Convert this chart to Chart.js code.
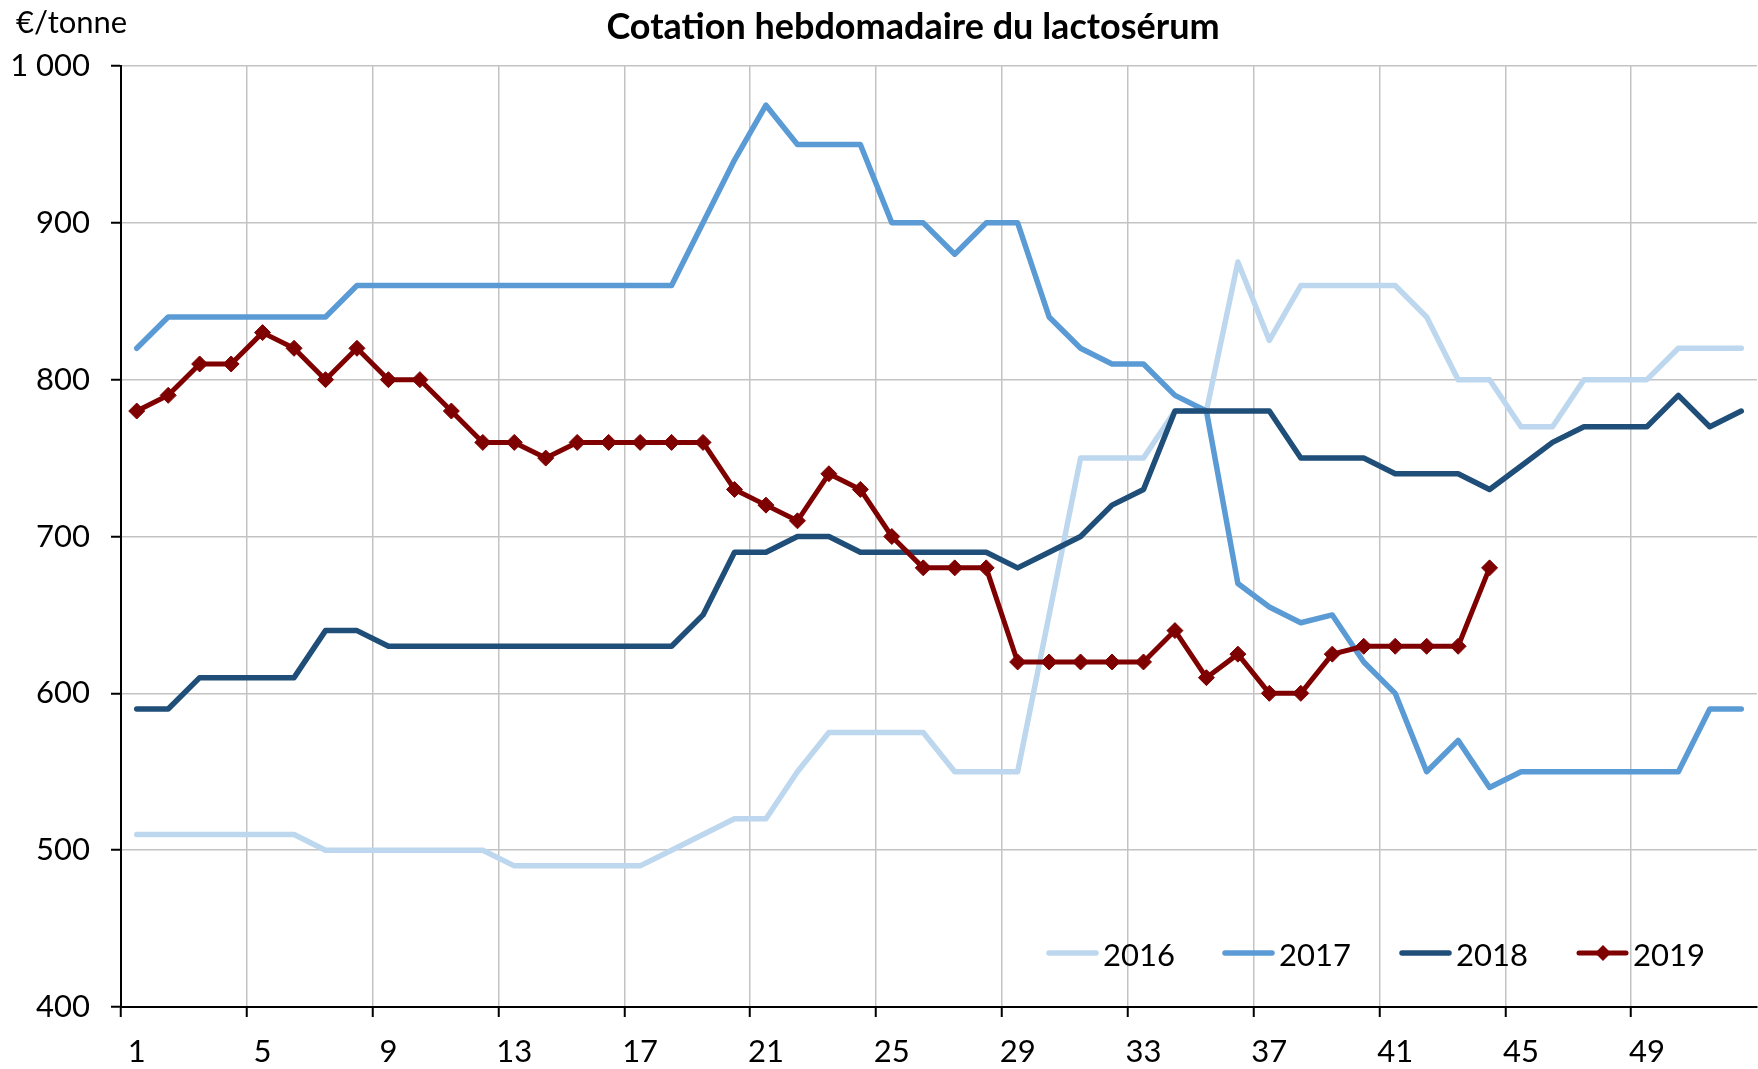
<!DOCTYPE html>
<html>
<head>
<meta charset="utf-8">
<script src="https://cdn.jsdelivr.net/npm/chart.js@4.4.1/dist/chart.umd.min.js"></script>
<style>
  html, body { margin: 0; padding: 0; background: #fff; overflow: hidden; }
  #wrap { position: absolute; left: 0; top: 0; width: 1766px; height: 1069px; }
</style>
</head>
<body>
<div id="wrap"><canvas id="c"></canvas></div>
<script>
// ---- data ----
const chartTitle = 'Cotation hebdomadaire du lactosérum';
const unitLabel = '€/tonne';
const weeks = ['1','2','3','4','5','6','7','8','9','10','11','12','13','14','15','16','17','18','19','20',
  '21','22','23','24','25','26','27','28','29','30','31','32','33','34','35','36','37','38','39','40',
  '41','42','43','44','45','46','47','48','49','50','51','52'];
const seriesNames = ['2016', '2017', '2018', '2019'];
const v2016 = [510,510,510,510,510,510,500,500,500,500,500,500,490,490,490,490,490,500,510,520,
  520,550,575,575,575,575,550,550,550,650,750,750,750,780,780,875,825,860,860,860,
  860,840,800,800,770,770,800,800,800,820,820,820];
const v2017 = [820,840,840,840,840,840,840,860,860,860,860,860,860,860,860,860,860,860,900,940,
  975,950,950,950,900,900,880,900,900,840,820,810,810,790,780,670,655,645,650,620,
  600,550,570,540,550,550,550,550,550,550,590,590];
const v2018 = [590,590,610,610,610,610,640,640,630,630,630,630,630,630,630,630,630,630,650,690,
  690,700,700,690,690,690,690,690,680,690,700,720,730,780,780,780,780,750,750,750,
  740,740,740,730,745,760,770,770,770,790,770,780];
const v2019 = [780,790,810,810,830,820,800,820,800,800,780,760,760,750,760,760,760,760,760,730,
  720,710,740,730,700,680,680,680,620,620,620,620,620,640,610,625,600,600,625,630,
  630,630,630,680,null,null,null,null,null,null,null,null];
const yMin = 400, yMax = 1000, yStep = 100;

// ---- styles ----
const colors = ['#BDD7EE', '#5B9BD5', '#1F4E79', '#7F0000'];
const FONT = 'Lato, "Open Sans", sans-serif';
const gridColor = '#C3C3C3';

function lineDs(label, data, color, order, withMarker) {
  return {
    label, data,
    borderColor: color,
    backgroundColor: color,
    borderWidth: withMarker ? 5 : 5.5,
    borderCapStyle: 'round',
    borderJoinStyle: 'round',
    tension: 0,
    fill: false,
    spanGaps: false,
    order,
    pointStyle: 'rectRot',
    pointRadius: withMarker ? 8 : 0,
    pointHoverRadius: withMarker ? 8 : 0,
    pointBorderWidth: 1,
    pointBackgroundColor: color,
    pointBorderColor: color
  };
}

const decorPlugin = {
  id: 'decor',
  afterDraw(chart) {
    const ctx = chart.ctx;
    ctx.save();
    // title
    ctx.fillStyle = '#000';
    ctx.font = 'bold 36px ' + FONT;
    ctx.textAlign = 'center';
    ctx.textBaseline = 'alphabetic';
    ctx.fillText(chartTitle, 913, 39);
    // unit
    ctx.font = '31px ' + FONT;
    ctx.textAlign = 'left';
    ctx.fillText(unitLabel, 16, 33);
    // legend (inside plot, bottom right)
    const legendX = [1047, 1223, 1400, 1577];
    const ly = 953;
    chart.data.datasets.forEach((ds, i) => {
      const x0 = legendX[i];
      ctx.strokeStyle = ds.borderColor;
      ctx.lineWidth = ds.borderWidth;
      ctx.lineCap = 'round';
      ctx.beginPath();
      ctx.moveTo(x0 + 2, ly);
      ctx.lineTo(x0 + 49, ly);
      ctx.stroke();
      if (ds.pointRadius > 0) {
        const r = 8, cx = x0 + 26;
        ctx.fillStyle = ds.pointBackgroundColor;
        ctx.beginPath();
        ctx.moveTo(cx - r, ly); ctx.lineTo(cx, ly - r);
        ctx.lineTo(cx + r, ly); ctx.lineTo(cx, ly + r);
        ctx.closePath();
        ctx.fill();
      }
      ctx.fillStyle = '#000';
      ctx.font = '31px ' + FONT;
      ctx.textAlign = 'left';
      ctx.textBaseline = 'alphabetic';
      ctx.fillText(ds.label, x0 + 56, ly + 13);
    });
    ctx.restore();
  }
};

const data = {
  labels: weeks,
  datasets: [
    lineDs(seriesNames[0], v2016, colors[0], 4, false),
    lineDs(seriesNames[1], v2017, colors[1], 3, false),
    lineDs(seriesNames[2], v2018, colors[2], 2, false),
    lineDs(seriesNames[3], v2019, colors[3], 1, true)
  ]
};

new Chart(document.getElementById('c'), {
  type: 'line',
  data,
  plugins: [decorPlugin],
  options: {
    responsive: true,
    maintainAspectRatio: false,
    devicePixelRatio: 1,
    animation: false,
    events: [],
    layout: { padding: { top: 66, right: 2, left: 0, bottom: 0 } },
    plugins: {
      legend: { display: false },
      title: { display: false },
      tooltip: { enabled: false }
    },
    scales: {
      x: {
        type: 'category',
        offset: true,
        afterFit(scale) { scale.height = 62; },
        grid: {
          offset: true,
          drawTicks: true,
          tickLength: 10,
          lineWidth: 1.5,
          color: (c) => (c.index !== undefined && c.index % 4 === 0) ? gridColor : 'rgba(0,0,0,0)',
          tickColor: (c) => (c.index !== undefined && c.index % 4 === 0) ? '#000' : 'rgba(0,0,0,0)',
          tickWidth: 2
        },
        border: { display: true, color: '#000', width: 2 },
        ticks: {
          autoSkip: false,
          maxRotation: 0,
          minRotation: 0,
          padding: 16,
          color: '#000',
          font: { family: FONT, size: 31 },
          callback: function(value, index) { return index % 4 === 0 ? this.getLabelForValue(value) : ''; }
        }
      },
      y: {
        min: yMin,
        max: yMax,
        afterFit(scale) { scale.width = 121; },
        grid: {
          drawTicks: true,
          tickLength: 10,
          lineWidth: 1.5,
          color: gridColor,
          tickColor: '#000',
          tickWidth: 2
        },
        border: { display: true, color: '#000', width: 2 },
        ticks: {
          stepSize: yStep,
          padding: 21,
          color: '#000',
          font: { family: FONT, size: 31 },
          callback: (v) => String(v).replace(/\B(?=(\d{3})+(?!\d))/g, ' ')
        }
      }
    }
  }
});
</script>
</body>
</html>
